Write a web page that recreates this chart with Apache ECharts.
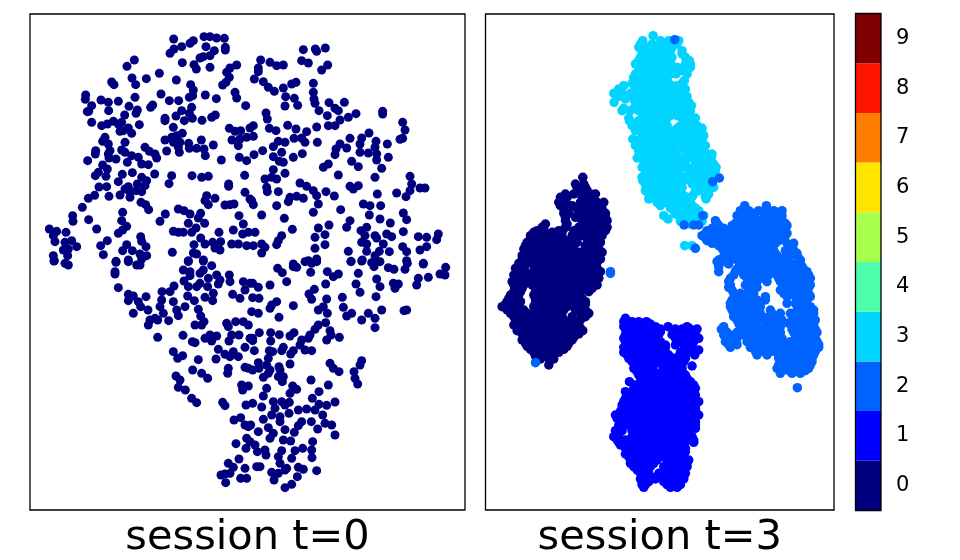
<!DOCTYPE html>
<html><head><meta charset="utf-8">
<style>html,body{margin:0;padding:0;background:#fff}#c{width:960px;height:560px}</style>
<script src="https://cdn.jsdelivr.net/npm/echarts@6/dist/echarts.min.js"></script>
</head><body><div id="c"></div>
<script>
const classLabels = ['0','1','2','3','4','5','6','7','8','9'];
const jetColors = ['#00007f','#0000ff','#0063ff','#00d4ff','#4dffaa','#a9ff4d','#ffe500','#ff7d00','#ff1400','#7f0000'];
const panelTitles = ['session t=0','session t=3'];

// session t=0 : all one class
const s0TopLeft = [[431,75],[420,118],[432,105],[455,98],[480,88],[490,80],[522,68],[540,68],[560,72],[583,73],[528,98],[553,110],[586,100],[586,108],[540,125],[510,132],[520,128],[457,146],[492,152],[499,165],[540,160],[620,153],[600,162],[590,175],[598,190],[588,205],[578,213],[313,138],[291,157],[306,192],[349,194],[388,178],[439,198],[317,212],[245,204],[252,212],[482,212],[490,228],[488,245],[478,250],[393,240],[526,243],[559,254],[615,235],[620,252],[647,275],[167,243],[166,256],[213,258],[235,265],[265,262],[315,250],[297,277],[185,275],[236,290],[176,292],[172,293],[185,325],[322,288],[318,298],[284,303],[368,273],[362,280],[418,260],[446,260],[485,280],[455,290],[478,298],[438,306],[405,313],[405,320],[487,313],[463,320],[516,319],[556,303],[545,310],[328,332],[215,335],[232,330],[250,322],[275,325],[265,330],[295,342],[270,352],[305,358],[280,350],[430,340],[598,343],[615,352],[632,350],[660,342],[457,358],[440,365],[425,370],[405,378],[430,385],[450,385],[476,388],[514,378],[550,393],[606,378],[630,375],[650,370],[625,395],[225,370],[218,382],[235,390],[285,385],[345,400],[358,412],[375,420],[380,432],[197,410],[240,410],[196,420],[235,420],[275,408],[285,415],[410,411],[445,400],[448,415],[478,403],[500,403],[522,405],[526,425],[628,430],[650,440],[574,438],[237,432],[258,435],[173,440],[292,445],[325,430],[305,425],[335,450],[355,452],[218,453],[232,465],[205,475],[196,485],[228,487],[277,481],[307,476],[374,480],[425,485],[417,509],[486,485],[515,490],[535,487],[644,484],[596,510],[596,517],[265,503],[335,490],[350,500],[322,510],[345,515],[295,518],[285,525],[207,519],[230,518],[300,535],[318,530],[335,533],[270,543],[300,550],[194,544],[175,553],[237,547],[645,535],[660,555],[530,545],[555,553],[525,560],[535,572],[585,573],[600,572],[612,570],[333,565],[347,572],[356,587],[157,580],[445,585],[462,590],[480,600],[512,598],[505,612],[627,605],[640,630],[406,600],[128,605],[129,622],[176,617],[278,595],[275,620],[390,622],[475,628],[524,628],[498,642],[430,652],[445,655],[460,655],[485,655],[290,637],[278,648],[265,658],[200,645],[58,645],[80,652],[70,665],[75,683],[108,655],[567,655],[610,648],[638,660],[655,655],[332,668],[335,682],[512,672],[525,690],[548,685],[572,683],[605,690],[625,690],[650,695],[105,685],[125,680],[140,698],[115,705],[100,708],[232,680],[212,695],[290,692],[348,698],[492,692],[555,702],[570,708],[278,710],[307,710],[220,722],[70,725],[73,740],[113,725],[350,725],[330,720],[335,735],[427,715],[490,717],[258,742],[295,738],[520,738],[475,740],[500,720]];

const s0TopRight = [[820,107],[856,105],[860,112],[886,102],[815,140],[835,147],[692,138],[720,145],[740,155],[760,153],[685,162],[685,173],[893,153],[875,168],[673,195],[700,203],[715,220],[733,232],[760,222],[785,210],[798,205],[850,208],[850,235],[852,255],[855,268],[767,248],[793,253],[765,276],[803,274],[867,290],[897,266],[943,265],[915,283],[925,290],[978,299],[955,310],[892,305],[930,318],[895,335],[915,335],[1058,292],[1058,300],[1118,325],[1125,348],[1118,373],[1110,376],[708,297],[712,315],[773,334],[718,343],[738,350],[670,335],[670,367],[798,345],[830,353],[860,339],[1017,357],[995,372],[960,373],[792,373],[815,372],[825,385],[745,382],[765,385],[730,398],[862,385],[990,390],[1038,382],[1035,400],[1072,390],[930,390],[950,402],[918,405],[915,422],[990,415],[1015,417],[1040,420],[1040,438],[1075,430],[755,415],[698,410],[672,422],[730,428],[748,442],[760,445],[790,430],[817,419],[965,442],[985,458],[895,450],[880,460],[1055,463],[730,467],[765,478],[925,483],[1035,490],[705,495],[725,490],[740,495],[810,507],[830,517],[850,530],[1140,487],[1145,510],[1170,522],[1185,522],[1140,530],[1100,537],[1128,548],[710,520],[712,533],[745,533],[888,533],[913,546],[1042,540],[960,517],[985,515],[970,525],[780,550],[800,547],[820,553],[860,545],[775,563],[665,560],[670,572],[740,575],[865,570],[1000,570],[1020,575],[1052,575],[850,595],[932,587],[1018,603],[1120,597],[1130,617],[695,603],[763,613],[1050,615],[1081,627],[960,620],[950,640],[897,633],[865,642],[787,646],[1010,640],[993,650],[885,662],[855,670],[675,655],[1120,653],[1005,665],[1035,665],[1070,660],[1085,668],[1165,668],[1190,670],[1225,660],[1220,677],[755,665],[745,680],[740,692],[995,685],[1010,690],[1040,672],[1060,690],[885,692],[855,703],[695,690],[670,695],[705,700],[695,717],[1118,698],[1130,713],[1190,698],[1170,708],[955,712],[1010,712],[1078,713],[1048,712],[1035,725],[835,740],[860,735],[963,742],[997,738],[1035,740],[1130,740],[1180,748],[790,750]];

const s0BottomLeft = [[72,741],[105,748],[115,753],[258,745],[295,743],[320,753],[330,753],[255,773],[255,780],[265,821],[295,841],[310,846],[295,860],[348,848],[325,863],[332,878],[310,898],[354,888],[475,743],[520,741],[545,755],[460,768],[480,773],[510,778],[520,768],[535,793],[480,785],[560,783],[598,783],[570,798],[600,803],[565,810],[462,801],[475,818],[510,808],[500,818],[533,818],[640,803],[645,828],[660,808],[432,816],[420,833],[396,833],[395,858],[430,863],[473,846],[493,860],[525,850],[550,838],[548,860],[608,841],[630,853],[465,878],[390,878],[440,888],[445,905],[505,886],[512,906],[400,898],[375,913],[360,918],[383,918],[416,920],[355,933],[522,923],[495,933],[515,933],[590,928],[595,938],[617,923],[640,923],[655,933],[383,970],[459,964],[487,983],[495,986],[525,973],[540,963],[545,981],[560,966],[597,981],[605,963],[627,963],[660,973],[645,1000],[565,1006],[585,1021],[600,1028],[610,1013],[625,1028],[430,1013],[443,1033],[458,1025],[505,1037],[558,1035],[645,1060],[655,1063],[595,1063],[593,1078],[488,1068],[515,1078],[533,1093],[438,1086],[450,1098],[445,1120],[466,1128],[635,1113],[638,1128],[655,1116],[485,1153],[500,1166],[578,1165],[585,1175],[648,1173],[612,1218],[632,1211],[645,1233],[655,1238],[650,1273],[618,1289],[648,1303],[627,1335],[595,1348],[610,1360],[645,1363],[600,1378],[585,1380],[573,1383],[587,1406],[632,1393],[650,1393]];

const s0BottomRight = [[743,763],[757,776],[790,758],[800,760],[825,743],[845,748],[860,743],[842,775],[892,773],[925,780],[910,788],[985,778],[963,743],[995,741],[1032,758],[1025,746],[1050,743],[1075,761],[1092,766],[1125,766],[1132,748],[1180,750],[1247,760],[1230,780],[1245,783],[1195,790],[1165,793],[1160,813],[1040,795],[1050,818],[978,810],[990,835],[1038,848],[1090,808],[1105,810],[1095,823],[720,813],[770,803],[668,808],[685,820],[887,810],[853,826],[837,840],[845,856],[890,855],[937,850],[940,880],[668,851],[687,853],[740,863],[725,873],[720,883],[790,875],[665,893],[685,898],[747,910],[865,888],[880,878],[892,898],[1055,888],[1130,888],[1122,890],[950,906],[965,898],[995,918],[1015,898],[1035,913],[887,926],[865,933],[855,946],[900,950],[903,963],[890,978],[928,970],[1035,941],[840,963],[835,973],[815,978],[810,993],[825,1008],[845,1010],[792,956],[780,966],[748,962],[722,956],[688,956],[722,981],[668,973],[668,980],[673,1010],[760,1000],[755,1010],[718,1010],[728,1013],[715,1033],[790,1010],[782,1020],[685,1046],[710,1053],[720,1068],[747,1058],[750,1068],[780,1050],[668,1068],[687,1063],[715,1078],[700,1090],[745,1088],[760,1088],[757,1103],[843,1098],[900,1048],[910,1063],[927,1073],[995,1040],[990,1053],[972,1073],[975,1093],[983,1110],[895,1113],[788,1116],[800,1126],[780,1138],[710,1123],[700,1146],[867,1133],[847,1153],[915,1164],[890,1174],[867,1171],[855,1188],[830,1185],[805,1188],[778,1165],[755,1163],[730,1163],[735,1183],[765,1173],[668,1168],[695,1179],[725,1203],[750,1208],[777,1198],[700,1216],[750,1223],[662,1233],[715,1241],[815,1223],[805,1235],[844,1223],[878,1203],[885,1228],[905,1233],[863,1245],[915,1263],[765,1247],[793,1255],[685,1253],[730,1258],[720,1273],[760,1278],[782,1281],[848,1283],[660,1283],[675,1293],[705,1308],[708,1323],[682,1313],[755,1310],[745,1328],[795,1310],[818,1303],[845,1308],[846,1331],[785,1333],[750,1348],[770,1363],[805,1360],[820,1366],[860,1370],[680,1358],[690,1358],[725,1375],[745,1378],[765,1368],[802,1388],[732,1398],[785,1411],[765,1421]];

// session t=3 : rows of [row, [positions along the row]]
const s3Class3Rows = [[65,[503]],[80,[472,525,550,580]],[100,[460,490,515,540,560]],[120,[470,495,520,545,590]],[140,[460,485,510,535,555,612]],[160,[470,495,520,545,575,595,615]],[180,[450,480,505,530,555,572,605]],[200,[445,470,495,520,545,597]],[215,[415,460,485,510,535,560,575]],[228,[580,597]],[238,[385,410,435,460,485,510,535,560]],[255,[420,445,470,495,520,545,570,600]],[265,[386]],[275,[470,495,520,545,575,600,618]],[290,[410,435,460,485,510,535,570,600,615]],[305,[480,505,530,555,575]],[320,[432,460,490,515,540,600,625]],[335,[440,470,495,520,545,585,610,635]],[350,[450,480,505,530,555,590,615,645]],[365,[490,515,540,580,605,630,655]],[375,[442,465]],[385,[470,495,520,545,565,590,615,640]],[395,[450,660]],[405,[475,500,525,550,595,620,645]],[420,[480,505,530,555,575,640,665,680]],[432,[455,610]],[440,[480,505,530,555,580,650,675]],[460,[470,495,520,545,570,600,625,650,672,692]],[480,[480,505,530,555,580,610,635,660,685]],[500,[472,495,520,545,570,595,620,645,670]],[520,[490,515,540,565,590,630,655,685]],[540,[490,515,540,565,590,625,670]],[555,[490,520,545,570,595,662]],[575,[525,555,580,605,620]],[590,[565,590,615,640]],[605,[535,580,605,630,655]],[615,[548,595,620,645]],[630,[610,630]],[695,[598,620]],
[90,[465,500,535,575]],[110,[475,505,530,555,590]],[130,[465,490,515,540,560,600]],[150,[450,480,505,530,555,600,615]],[170,[460,490,515,540,560,590]],[190,[445,470,495,520,545]],[208,[440,475,500,525,550,590]],[225,[400,450,475,500,525,550,570,600]],[247,[400,430,455,480,505,530,555,585,605]],[265,[450,480,505,530,555,590,610]],[283,[415,445,470,495,520,545,590]],[298,[470,495,520,545,610]],[312,[430,470,495,520,545,590,610,630]],[328,[450,480,505,530,595,620]],[343,[460,490,515,540,575,600,630,650]],[358,[470,495,520,545,570,600,625,650]],[378,[485,505,530,555,575,600,625,650]],[395,[470,495,520,545,570,595,615,640]],[412,[460,490,515,540,565,610,630,655]],[430,[470,495,520,545,570,600,630,660,678]],[450,[475,500,525,550,575,600,630,660,685]],[470,[480,505,530,555,580,610,640,670,690]],[490,[470,495,520,545,570,600,625,650,680]],[510,[480,505,530,555,580,620,650,680]],[530,[480,505,530,555,580,640,670]],[548,[495,525,550,575,600,620,660]],[565,[515,540,565,590,615]],[582,[555,585,610,630]],[600,[570,595,620,640]],[622,[585,605,625,650]]];

const s3Class2Rows = [[77,[568]],[492,[702]],[503,[682]],[605,[652]],[633,[596,625,640]],[703,[630]],[773,[375]],[778,[375]],[1046,[150]],[575,[778,843]],[590,[765,790,820,845,865,890]],[605,[755,780,800,845,870,890]],[620,[690,770,795,820,860,890]],[635,[700,740,765,790,815,850,880,905]],[650,[665,690,715,740,765,790,815,845,870,900]],[665,[650,675,700,725,750,775,800,825,850,875,900]],[680,[665,690,715,740,765,790,815,840,865,880]],[692,[915]],[695,[700,725,750,775,800,825,850]],[710,[715,740,765,790,815,840,865,900,925]],[725,[725,750,775,800,825,850,875,915]],[738,[700,735,765,790,815,840,870,945]],[743,[695,720,760,785,810,835,860,885,910,945]],[758,[700,765,790,815,840,865,890,915,950]],[773,[700,750,790,815,840,865,890,915,940,965]],[793,[735,785,810,835,880,905,930,955,975]],[813,[735,780,805,900,925,950,975]],[828,[740,790,885,915,940,965]],[848,[750,775,800,840,905,930,955,975]],[868,[735,760,785,810,905,930,960]],[888,[740,765,790,815,855,935,960,985]],[908,[745,770,795,820,850,875,925,950,975]],[928,[760,785,810,850,875,910,935,960,985]],[946,[708,770,795,820,845,870,920,945,970,990]],[963,[715,745,775,800,825,850,875,930,955,985]],[983,[720,745,785,810,835,860,885,915,940,965,995]],[1000,[735,795,820,845,870,895,920,945,970,1000]],[1023,[815,845,880,905,930,955,985]],[1043,[890,915,940,965,980]],[1063,[875,900,925,950,970]],[1078,[885,920,945]],[1121,[936]],
[598,[775,805,835,860,885]],[612,[760,785,810,835,860,885]],[628,[695,750,780,805,830,875,900]],[643,[680,715,750,775,800,830,860,895]],[658,[660,700,730,755,785,810,835,860,885,905]],[672,[660,690,715,740,765,790,815,840,865,890]],[688,[680,705,730,755,780,805,830,855,870,905,925]],[703,[710,735,760,785,810,835,860,910]],[718,[720,745,770,795,820,845,870,910,935]],[733,[710,745,770,795,820,845,870,895,940]],[750,[700,730,770,795,820,845,870,895,920]],[765,[755,780,805,830,855,880,905,930,955]],[783,[745,775,800,825,850,875,900,925,950,970]],[803,[730,790,815,845,885,915,940,965]],[820,[730,790,815,895,925,950,970]],[838,[745,765,785,805,895,920,945,970]],[858,[740,765,790,815,840,935,945,965]],[878,[735,755,780,805,825,945,975]],[898,[745,775,800,825,860,885,915,945,970,985]],[918,[755,780,805,835,860,890,920,945,970,990]],[938,[715,765,790,815,840,860,885,930,955,985]],[955,[725,755,785,810,835,860,885,925,950,975,995]],[973,[730,755,790,815,840,865,890,935,960,990]],[992,[730,755,795,820,845,870,895,925,950,975,1000]],[1012,[810,835,860,890,915,940,965,990]],[1033,[880,905,930,955,980]],[1053,[880,905,930,955,975]],[1070,[890,910,935,960]]];

const s3Class1Rows = [[913,[420]],[923,[415,440,460,483]],[938,[415,435,460,485,510,548,605]],[953,[430,455,480,505,525,580,605,625]],[973,[415,440,465,490,515,570,595,620,640]],[993,[425,450,475,500,540,570,595,620]],[1008,[430,455,480,505,530,640,600]],[1023,[425,450,475,500,525,550,583,628]],[1043,[440,465,490,515,550,575,595]],[1056,[620]],[1063,[445,470,495,540,565,590]],[1083,[460,485,510,535,575,600]],[1103,[432,465,490,515,540,565,590,615]],[1123,[445,470,495,520,545,570,595,620,630]],[1143,[430,455,480,505,530,555,580,605,630]],[1163,[415,440,465,490,515,540,565,590,615,640]],[1183,[410,435,460,485,510,535,560,585,610,630]],[1203,[390,415,440,465,490,515,540,565,590,615,640]],[1223,[405,430,455,480,505,530,555,580,605,630]],[1243,[405,445,470,495,520,545,570,595,630]],[1260,[395,460,485,510,535,560,585,610]],[1278,[395,420,445,470,495,520,545,570,595,625]],[1293,[405,440,465,490,515,540,565,590]],[1313,[430,455,480,505,530,555,580,600]],[1328,[430,455,480,505,530,560,585]],[1348,[435,460,485,505,555,580,605]],[1368,[455,480,540,565,590]],[1388,[480,495,520,545,570,595]],[1403,[470,490,535,560,585]],[1420,[475,555,575]],
[930,[425,470,495]],[945,[420,450,475,500,525,570,590,615,635]],[962,[420,445,470,495,520,560,585,610,630]],[983,[420,450,475,500,525,575,600,625]],[1000,[415,435,460,490,515,540,605]],[1015,[415,440,465,490,515,540,585,620]],[1033,[430,460,485,510,535,565,600]],[1053,[450,480,505,530,560,585]],[1073,[455,480,505,530,560,590]],[1093,[470,495,520,545,570,590,605]],[1113,[450,475,500,525,550,575,600,625]],[1133,[420,445,470,495,520,545,570,595,625]],[1153,[420,445,470,495,520,545,570,595,625]],[1173,[410,430,455,480,505,530,555,580,605,630]],[1193,[405,430,455,480,505,530,555,580,605,630]],[1213,[395,420,445,470,495,520,545,570,595,620]],[1233,[400,425,455,480,505,530,555,580,605,630]],[1250,[390,410,440,465,490,515,540,565,590,610]],[1268,[385,400,440,465,490,515,540,565,590,620]],[1285,[400,420,450,475,500,525,550,575,600,625]],[1303,[420,450,475,500,525,550,575,600]],[1320,[420,445,470,495,520,545,570,595]],[1338,[435,460,485,515,545,570,595,610]],[1358,[445,470,495,535,560,585,605]],[1378,[465,490,520,545,570,600]],[1395,[465,510,545,570,595]],[1412,[470,480,545,565,585]]];

const s3Class0Rows = [[490,[292]],[510,[270,295]],[530,[285,305]],[550,[225,245,290,320]],[565,[220,240,285,310,335,355]],[585,[235,275,300,325,350]],[610,[240,270,300,325,350,360]],[630,[180,245,300,330,355]],[650,[155,220,265,300,335,360]],[665,[135,165,190,215,260,285,320,350]],[685,[125,150,175,200,225,250,275,325,345]],[705,[115,140,165,190,215,240,265,310,340]],[725,[110,135,160,185,230,255,280,305,330]],[745,[105,130,155,180,205,230,260,285,310,335]],[748,[100,125,175,200,225,285,325]],[763,[90,110,170,195,235,260,285,310,335]],[783,[85,110,130,160,185,210,235,260,285,310,335]],[803,[80,105,130,155,200,225,250,275,300,325]],[823,[90,110,150,175,200,225,250,275,300,320]],[843,[75,100,145,170,195,220,245,270]],[863,[65,90,105,150,175,200,225,250,275,300]],[878,[50,75,100,145,170,195,220,245,290]],[898,[75,100,125,170,195,220,285,310]],[918,[90,115,140,185,210,235,260,285]],[933,[85,110,135,160,185,210,235,260]],[950,[95,120,145,170,195,220,245,270,292]],[970,[125,150,175,200,225,265]],[988,[120,140,185,215,250]],[1006,[135,160,185,205,235]],[1026,[150,175,200]],[1053,[190]],
[520,[275,300]],[540,[240,265,295,315,330]],[575,[225,260,295,320,345]],[598,[235,250,290,315,340,360]],[620,[240,290,315,345,365]],[640,[170,240,280,310,345,365]],[655,[145,180,200,230,280,320,350]],[675,[145,175,205,235,270,305,335]],[695,[120,160,190,215,240,265,300,335]],[715,[125,150,175,205,250,285,320,350]],[735,[120,145,170,195,215,245,270,295,320,345]],[755,[115,145,165,190,215,240,270,300,320]],[773,[95,120,145,155,180,205,225,250,275,300,325,345]],[793,[90,120,145,170,195,220,245,270,295,320,340]],[813,[85,115,140,165,185,210,235,260,290,315,335]],[833,[85,105,150,175,210,235,260,285,310]],[853,[70,95,150,185,210,235,260,290]],[870,[60,85,150,185,210,235,265,300]],[888,[65,90,115,150,180,205,235,270,300]],[908,[85,110,135,160,180,205,230,260,300]],[925,[100,125,150,175,200,225,250,275]],[942,[110,135,160,185,210,235,260,285]],[960,[110,135,160,185,210,235,255,280]],[978,[110,135,165,190,215,240,260]],[997,[125,150,170,200,230,245]],[1015,[145,170,195,220]],[1035,[165,190,205]]];

const session0 = [...s0TopLeft, ...s0TopRight, ...s0BottomLeft, ...s0BottomRight];
const fromRows = rows => rows.flatMap(([row, xs]) => xs.map(x => [x, row]));

const chart = echarts.init(document.getElementById('c'), null, {renderer:'canvas'});
const hiddenX = (idx, title, max) => ({gridIndex:idx, type:'value', min:0, max,
  axisLine:{show:false}, axisTick:{show:false}, axisLabel:{show:false}, splitLine:{show:false},
  name:title, nameLocation:'middle', nameGap:7,
  nameTextStyle:{fontFamily:'DejaVu Sans', fontSize:41.5, color:'#000', verticalAlign:'top'}});
const hiddenY = idx => ({gridIndex:idx, type:'value', min:0, max:1488, inverse:true,
  axisLine:{show:false}, axisTick:{show:false}, axisLabel:{show:false}, splitLine:{show:false}});
const dots = (idx, data, color, z, size) => ({type:'scatter', xAxisIndex:idx, yAxisIndex:idx, data,
  symbolSize:size, z, itemStyle:{color, opacity:1}, silent:true, animation:false});

chart.setOption({
  animation:false,
  backgroundColor:'#fff',
  grid:[
    {left:30, top:14, width:435, height:496, outerBoundsMode:'none', show:true, borderColor:'#000', borderWidth:1.3, backgroundColor:'#fff'},
    {left:485.5, top:14, width:348.5, height:496, outerBoundsMode:'none', show:true, borderColor:'#000', borderWidth:1.3, backgroundColor:'#fff'},
    {left:855.5, top:13.5, width:25.5, height:497, outerBoundsMode:'none', show:true, borderColor:'#000', borderWidth:1.3, z:20}
  ],
  xAxis:[
    hiddenX(0, panelTitles[0], 1305),
    hiddenX(1, panelTitles[1], 1046),
    {gridIndex:2, type:'value', min:0, max:1, axisLine:{show:false}, axisTick:{show:false}, axisLabel:{show:false}, splitLine:{show:false}}
  ],
  yAxis:[
    hiddenY(0), hiddenY(1),
    {gridIndex:2, type:'category', data:classLabels, position:'right',
      axisLine:{show:false},
      axisTick:{show:true, alignWithLabel:true, length:7, lineStyle:{color:'#000', width:1.1}},
      axisLabel:{fontFamily:'DejaVu Sans', fontSize:21, color:'#000', margin:15, padding:[5,0,0,0]}}
  ],
  series:[
    dots(0, session0, jetColors[0], 2, 9),
    dots(1, fromRows(s3Class0Rows), jetColors[0], 2, 9.5),
    dots(1, fromRows(s3Class1Rows), jetColors[1], 3, 9.5),
    dots(1, fromRows(s3Class3Rows), jetColors[3], 4, 9.5),
    dots(1, fromRows(s3Class2Rows), jetColors[2], 5, 9.5),
    {type:'bar', xAxisIndex:2, yAxisIndex:2, barWidth:'100%', silent:true, animation:false,
      data:classLabels.map((l,i)=>({value:1, itemStyle:{color:jetColors[i]}}))}
  ]
});
</script></body></html>
